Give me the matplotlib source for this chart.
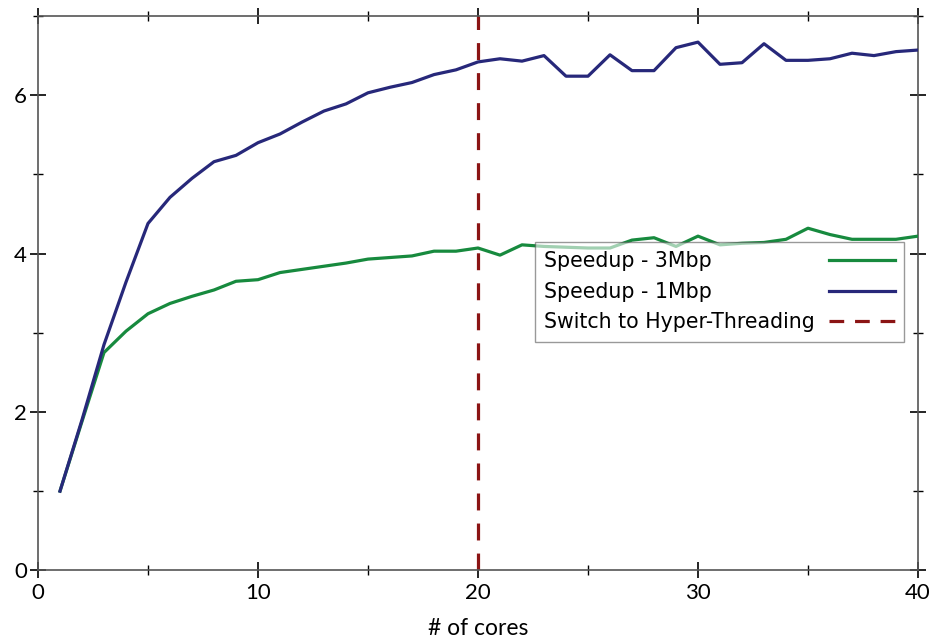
import matplotlib
matplotlib.use("Agg")
import matplotlib.pyplot as plt
from matplotlib.ticker import MultipleLocator

plt.rcParams['font.family'] = ['Lato', 'DejaVu Sans']

cores = list(range(1, 41))
speedup_3mbp = [1.0, 1.88, 2.75, 3.02, 3.24, 3.37, 3.46, 3.54, 3.65, 3.67,
                3.76, 3.80, 3.84, 3.88, 3.93, 3.95, 3.97, 4.03, 4.03, 4.07,
                3.98, 4.11, 4.09, 4.08, 4.07, 4.07, 4.17, 4.20, 4.09, 4.22,
                4.11, 4.13, 4.14, 4.18, 4.32, 4.24, 4.18, 4.18, 4.18, 4.22]
speedup_1mbp = [1.0, 1.90, 2.85, 3.64, 4.38, 4.71, 4.95, 5.16, 5.24, 5.40,
                5.51, 5.66, 5.80, 5.89, 6.03, 6.10, 6.16, 6.26, 6.32, 6.42,
                6.46, 6.43, 6.50, 6.24, 6.24, 6.51, 6.31, 6.31, 6.60, 6.67,
                6.39, 6.41, 6.65, 6.44, 6.44, 6.46, 6.53, 6.50, 6.55, 6.57]
ht_switch = 20
labels = ["Speedup - 3Mbp", "Speedup - 1Mbp", "Switch to Hyper-Threading"]
xlabel = "# of cores"

green = "#178a3e"
blue = "#27287a"
red = "#8b1414"

fig = plt.figure(figsize=(9.34, 6.41), dpi=100)
ax = fig.add_axes([38/934, (641-570.3)/641, 880/934, 554.3/641])

ax.plot(cores, speedup_3mbp, color=green, lw=2.3, label=labels[0], zorder=3)
ax.plot(cores, speedup_1mbp, color=blue, lw=2.3, label=labels[1], zorder=3)
ax.axvline(ht_switch, color=red, lw=2.3, ls=(0, (5.3, 4.1)), label=labels[2], zorder=2)

ax.set_xlim(0, 40)
ax.set_ylim(0, 7)
ax.xaxis.set_major_locator(MultipleLocator(10))
ax.xaxis.set_minor_locator(MultipleLocator(5))
ax.yaxis.set_major_locator(MultipleLocator(2))
ax.yaxis.set_minor_locator(MultipleLocator(1))
ax.tick_params(which='both', direction='inout', top=True, right=True,
               labelsize=16, color='black')
ax.tick_params(which='major', length=12, width=1.2)
ax.tick_params(which='minor', length=6.5, width=1.0)
ax.tick_params(axis='x', pad=3)
ax.tick_params(axis='y', pad=2)
for s in ax.spines.values():
    s.set_color('#555555')
    s.set_linewidth(1.2)

ax.set_xlabel(xlabel, fontsize=16.5, labelpad=11)

leg_fs = 14.8
leg = ax.legend(loc='upper left', bbox_to_anchor=(0.565, 0.592), borderaxespad=0,
                markerfirst=False, prop={'family': ['DejaVu Sans'], 'size': leg_fs},
                handlelength=3.2, handletextpad=0.68,
                frameon=True, fancybox=False, framealpha=0.6, edgecolor='#555555',
                borderpad=0.45, labelspacing=0.51)
leg.get_frame().set_linewidth(1.0)
leg.get_lines()[2].set_linestyle((0, (4.6, 3.4)))

# left-align legend texts while keeping handles aligned on the right
fig.canvas.draw()
renderer = fig.canvas.get_renderer()
widths = [t.get_window_extent(renderer).width for t in leg.get_texts()]
maxw = max(widths)
base_sep = 0.68 * leg_fs
rows = []
for col in leg._legend_handle_box.get_children():
    rows.extend(col.get_children())
for row, w in zip(rows, widths):
    row.sep = base_sep + (maxw - w) * 72.0 / fig.dpi

fig.savefig("out.png", dpi=100)
